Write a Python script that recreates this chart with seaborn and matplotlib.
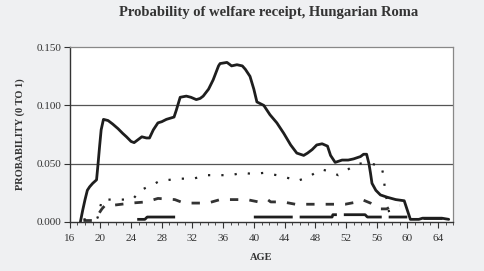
import matplotlib
matplotlib.use('Agg')
import matplotlib.pyplot as plt
import seaborn as sns
from matplotlib.ticker import MultipleLocator

# %%
# Values
total_age = [17.4, 17.7, 18.0, 18.3, 18.6, 19.0, 19.5, 19.7, 19.9, 20.1, 20.4, 21.0, 21.6,
             22.3, 22.9, 23.4, 24.0, 24.4, 25.0, 25.4, 26.0, 26.4, 26.9, 27.5, 28.0, 28.6,
             29.1, 29.6, 29.9, 30.4, 31.2, 31.8, 32.5, 33.0, 33.4, 34.1, 34.7, 35.4, 35.6,
             36.5, 37.1, 37.8, 38.5, 38.9, 39.5, 40.0, 40.4, 41.3, 42.1, 43.0, 43.9, 44.8,
             45.6, 46.5, 47.0, 47.6, 48.2, 48.9, 49.6, 50.0, 50.6, 51.5, 52.3, 53.0, 53.9,
             54.3, 54.7, 55.0, 55.2, 55.4, 55.9, 56.5, 57.4, 58.5, 59.6, 60.0, 60.4, 61.5,
             62.0, 64.5, 65.4]
total_prob = [0.000, 0.010, 0.019, 0.027, 0.030, 0.033, 0.036, 0.050, 0.065, 0.079, 0.088,
              0.087, 0.084, 0.080, 0.076, 0.073, 0.069, 0.068, 0.071, 0.073, 0.072, 0.072,
              0.079, 0.085, 0.086, 0.088, 0.089, 0.090, 0.096, 0.107, 0.108, 0.107, 0.105,
              0.106, 0.108, 0.114, 0.122, 0.134, 0.136, 0.137, 0.134, 0.135, 0.134, 0.131,
              0.125, 0.114, 0.103, 0.100, 0.092, 0.085, 0.076, 0.066, 0.059, 0.057, 0.059,
              0.062, 0.066, 0.067, 0.065, 0.057, 0.051, 0.053, 0.053, 0.054, 0.056, 0.058,
              0.058, 0.050, 0.042, 0.033, 0.027, 0.023, 0.021, 0.019, 0.018, 0.010, 0.002,
              0.002, 0.003, 0.003, 0.002]

dot_age = [17.8, 19.0, 19.8, 20.0, 20.2, 22.0, 24.2, 25.2, 26.9, 27.7, 29.0, 30.4, 32.1,
           33.9, 35.6, 37.0, 38.5, 40.0, 41.3, 43.0, 44.8, 45.6, 47.0, 48.0, 48.8, 50.0,
           51.0, 51.8, 53.5, 55.0, 55.9, 56.6, 56.9, 57.1, 57.6, 58.0]
dot_prob = [0.002, 0.002, 0.004, 0.013, 0.019, 0.019, 0.019, 0.027, 0.032, 0.035, 0.036,
            0.037, 0.037, 0.040, 0.040, 0.040, 0.042, 0.041, 0.042, 0.040, 0.037, 0.035,
            0.038, 0.042, 0.045, 0.043, 0.040, 0.043, 0.050, 0.050, 0.049, 0.048, 0.040,
            0.027, 0.009, 0.001]

dash_age = [17.8, 19.0, 19.8, 20.2, 20.6, 21.5, 24.0, 26.0, 27.5, 29.7, 30.9, 32.0, 34.0,
            35.6, 37.2, 39.1, 40.6, 41.8, 42.2, 43.8, 45.4, 47.3, 50.3, 51.9, 53.5, 54.1,
            55.2, 55.6, 56.5, 57.3, 58.2, 59.0]
dash_prob = [0.001, 0.001, 0.007, 0.011, 0.014, 0.014, 0.016, 0.017, 0.020, 0.019, 0.016,
             0.016, 0.016, 0.019, 0.019, 0.019, 0.017, 0.019, 0.017, 0.017, 0.015, 0.015,
             0.015, 0.015, 0.017, 0.019, 0.016, 0.014, 0.011, 0.011, 0.014, 0.014]

# long-dash series: only the stretches that lift off the axis are visible
long_age = [24.8, 25.8, 26.1, 30.0, 40.0, 50.2, 50.3, 54.5, 54.8, 60.0, 62.0, 64.5]
long_prob = [0.002, 0.002, 0.004, 0.004, 0.004, 0.004, 0.006, 0.006, 0.004, 0.004,
             0.003, 0.003]
long_seg = [1, 1, 1, 1, 2, 2, 2, 2, 2, 2, 3, 3]

y_ticks = [0.0, 0.05, 0.10, 0.15]
y_labels = ['0.000', '0.050', '0.100', '0.150']
x_ticks = list(range(16, 65, 4))

# %%
sns.set_theme(style='white')
plt.rcParams['font.family'] = ['Liberation Serif', 'DejaVu Serif']
bg = '#eff0f2'
ink = '#1e1e1e'

fig = plt.figure(figsize=(4.84, 2.71), dpi=100, facecolor=bg)
ax = fig.add_axes([0.144, 0.182, 0.7926, 0.6435])
ax.set_facecolor('white')

for y in [0.05, 0.10]:
    ax.axhline(y, color='#555555', lw=0.9, zorder=1)

sns.lineplot(x=long_age, y=long_prob, units=long_seg, ax=ax, estimator=None, sort=False,
             color=ink, lw=2.0, linestyle=(0, (14, 2.5)), zorder=3)
sns.lineplot(x=dash_age, y=dash_prob, ax=ax, estimator=None, sort=False,
             color='#333333', lw=2.0, linestyle=(0, (3, 4)), zorder=3)
sns.lineplot(x=dot_age, y=dot_prob, ax=ax, estimator=None, sort=False,
             color='#222222', lw=1.6, linestyle=(0, (1, 5)), zorder=3)
sns.lineplot(x=total_age, y=total_prob, ax=ax, estimator=None, sort=False,
             color=ink, lw=2.0, zorder=4)

ax.set_xlim(16, 66)
ax.set_ylim(0, 0.15)
ax.set_yticks(y_ticks)
ax.set_yticklabels(y_labels)
ax.set_xticks(x_ticks)
ax.xaxis.set_minor_locator(MultipleLocator(1))
ax.tick_params(axis='both', which='major', direction='out', length=4, width=0.8,
               color='#333333', labelsize=8, labelcolor='#333333', pad=2)
ax.tick_params(axis='x', which='minor', direction='out', length=2.5, width=0.6,
               color='#333333', bottom=True)
ax.tick_params(axis='x', which='major', pad=5)
ax.tick_params(axis='y', left=True)
ax.tick_params(axis='x', bottom=True)

for side in ['left', 'bottom']:
    ax.spines[side].set_color('#333333')
    ax.spines[side].set_linewidth(1.0)
for side in ['top', 'right']:
    ax.spines[side].set_color('#888888')
    ax.spines[side].set_linewidth(0.9)

ax.set_xlabel('AGE', fontsize=7.5, fontweight='bold', color='#333333', labelpad=7)
ax.set_ylabel('PROBABILITY (0 TO 1)', fontsize=7.5, fontweight='bold', color='#333333',
              labelpad=8)
fig.text(0.555, 0.955, 'Probability of welfare receipt, Hungarian Roma', ha='center',
         va='center', fontsize=10.5, fontweight='bold', color='#333333')

fig.savefig('out.png', dpi=100, facecolor=bg)
